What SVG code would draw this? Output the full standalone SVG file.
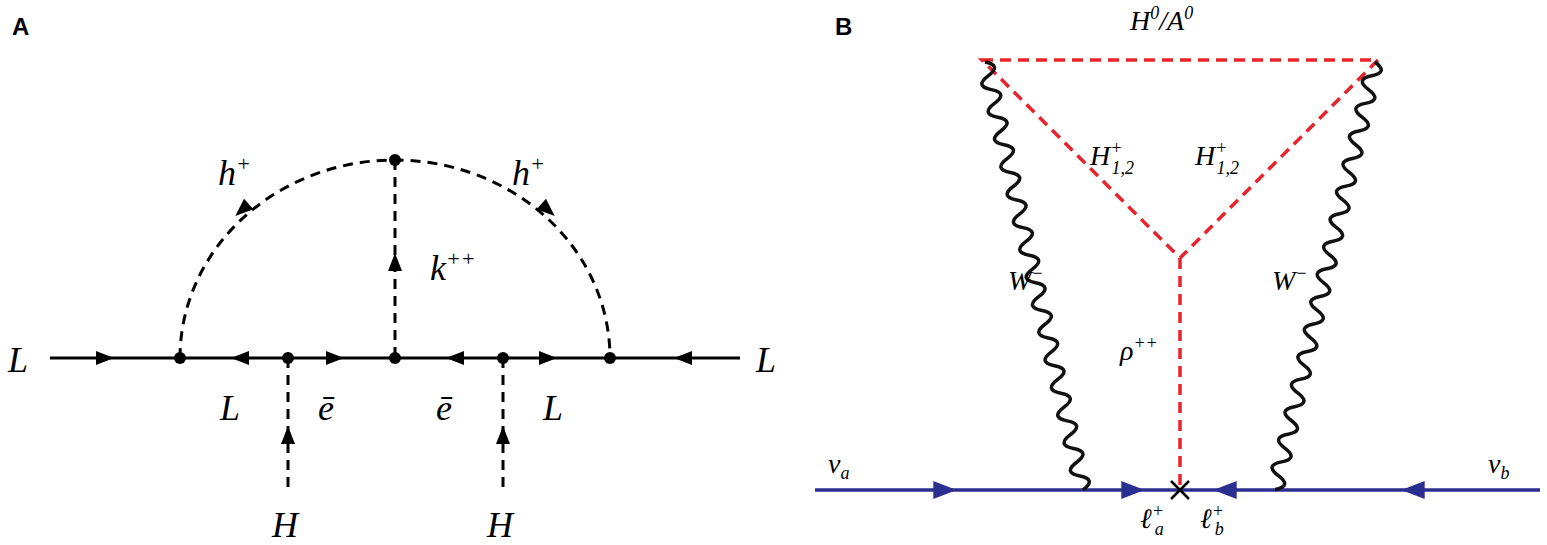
<svg xmlns="http://www.w3.org/2000/svg" width="1547" height="545" viewBox="0 0 1547 545">
<style>
.m{font-family:"Liberation Serif",serif;font-style:italic;font-size:36px;fill:#000}
.s{font-family:"Liberation Serif",serif;font-style:italic;font-size:22px}
.p{font-family:"Liberation Sans",Arial,sans-serif;font-weight:bold;font-size:24px}
.sol{stroke:#000;stroke-width:3;fill:none}
.dash{stroke:#000;stroke-width:3;fill:none;stroke-dasharray:10,7}
.rd{stroke:#e8232a;stroke-width:3.5;fill:none;stroke-dasharray:11,7}
.bl{stroke:#2b2f8f;stroke-width:3.5;fill:none}
.wv{stroke:#111;stroke-width:3.5;fill:none}
</style>
<defs>
<path id="ah" d="M9,0 L-9,-7 L-9,7 Z"/>
<path id="wave" d="M0,0 q7.08,-16 14.16,0 t14.16,0 t14.16,0 t14.16,0 t14.16,0 t14.16,0 t14.16,0 t14.16,0 t14.16,0 t14.16,0 t14.16,0 t14.16,0 t14.16,0 t14.16,0 t14.16,0 t14.16,0 t14.16,0 t14.16,0 t14.16,0 t14.16,0 t14.16,0 t14.16,0 t14.16,0 t14.16,0 t14.16,0 t14.16,0 t14.16,0 t14.16,0 t14.16,0 t14.16,0 t14.16,0"/>
</defs>
<text class="p" x="12" y="35">A</text>
<text class="p" x="835" y="35">B</text>
<g id="connectors">
<line class="sol" x1="50" y1="358" x2="740" y2="358"/>
<path class="dash" d="M180,358 A215,198 0 0 1 610,358"/>
<line class="dash" x1="395" y1="160" x2="395" y2="358"/>
<line class="dash" x1="288" y1="358" x2="288" y2="492"/>
<line class="dash" x1="503" y1="358" x2="503" y2="492"/>
<g fill="#000">
<use href="#ah" transform="translate(105,358)"/>
<use href="#ah" transform="translate(240,358) rotate(180)"/>
<use href="#ah" transform="translate(335,358)"/>
<use href="#ah" transform="translate(455,358) rotate(180)"/>
<use href="#ah" transform="translate(548,358)"/>
<use href="#ah" transform="translate(683,358) rotate(180)"/>
<use href="#ah" transform="translate(395,262) rotate(-90)"/>
<use href="#ah" transform="translate(288,435) rotate(-90)"/>
<use href="#ah" transform="translate(503,435) rotate(-90)"/>
<use href="#ah" transform="translate(242,210) rotate(138)"/>
<use href="#ah" transform="translate(548,210) rotate(42)"/>
</g>
<path class="rd" d="M982,60 L1378,60 L1180,258 Z"/>
<line class="rd" x1="1180" y1="258" x2="1180" y2="490"/>
<line class="bl" x1="815" y1="490" x2="1540" y2="490"/>
<use href="#wave" class="wv" transform="translate(985,62) rotate(77.1)"/>
<use href="#wave" class="wv" transform="translate(1375,62) rotate(103.15)"/>
<g fill="#2b2f8f">
<use href="#ah" transform="translate(945,490) scale(1.3)"/>
<use href="#ah" transform="translate(1133,490) scale(1.3)"/>
<use href="#ah" transform="translate(1225,490) rotate(180) scale(1.3)"/>
<use href="#ah" transform="translate(1413,490) rotate(180) scale(1.3)"/>
</g>
<path d="M1171,481 L1189,499 M1189,481 L1171,499" stroke="#000" stroke-width="2.5"/>
</g>
<g id="vertices" fill="#000">
<circle cx="180" cy="358" r="6"/><circle cx="288" cy="358" r="6"/><circle cx="395" cy="358" r="6"/>
<circle cx="503" cy="358" r="6"/><circle cx="610" cy="358" r="6"/><circle cx="395" cy="160" r="6"/>
</g>
<g id="labelsA">
<text class="m" x="8" y="372">L</text>
<text class="m" x="756" y="372">L</text>
<text class="m" x="220" y="420">L</text>
<text class="m" x="318" y="420">ē</text>
<text class="m" x="436" y="420">ē</text>
<text class="m" x="543" y="420">L</text>
<text class="m" x="218" y="185">h<tspan class="s" dy="-14">+</tspan></text>
<text class="m" x="512" y="185">h<tspan class="s" dy="-14">+</tspan></text>
<text class="m" x="430" y="280">k<tspan class="s" dy="-14">++</tspan></text>
<text class="m" x="272" y="537">H</text>
<text class="m" x="487" y="537">H</text>
</g>
<g id="labelsB" font-family="Liberation Serif,serif" font-style="italic" font-size="28">
<text x="1130" y="30">H<tspan font-size="18" dy="-11">0</tspan><tspan dy="11">/A</tspan><tspan font-size="18" dy="-11">0</tspan></text>
<text x="1090" y="165">H<tspan font-size="18" dy="-11">+</tspan><tspan font-size="18" dx="-11" dy="20">1,2</tspan></text>
<text x="1195" y="165">H<tspan font-size="18" dy="-11">+</tspan><tspan font-size="18" dx="-11" dy="20">1,2</tspan></text>
<text x="1008" y="290">W<tspan font-size="18" dy="-11">−</tspan></text>
<text x="1272" y="290">W<tspan font-size="18" dy="-11">−</tspan></text>
<text x="1120" y="360">ρ<tspan font-size="18" dy="-11">++</tspan></text>
<text x="828" y="473">ν<tspan font-size="18" dy="6">a</tspan></text>
<text x="1488" y="473">ν<tspan font-size="18" dy="6">b</tspan></text>
<text x="1140" y="528">ℓ<tspan font-size="18" dy="-11">+</tspan><tspan font-size="18" dx="-9" dy="18">a</tspan></text>
<text x="1200" y="528">ℓ<tspan font-size="18" dy="-11">+</tspan><tspan font-size="18" dx="-9" dy="18">b</tspan></text>
</g>
</svg>
